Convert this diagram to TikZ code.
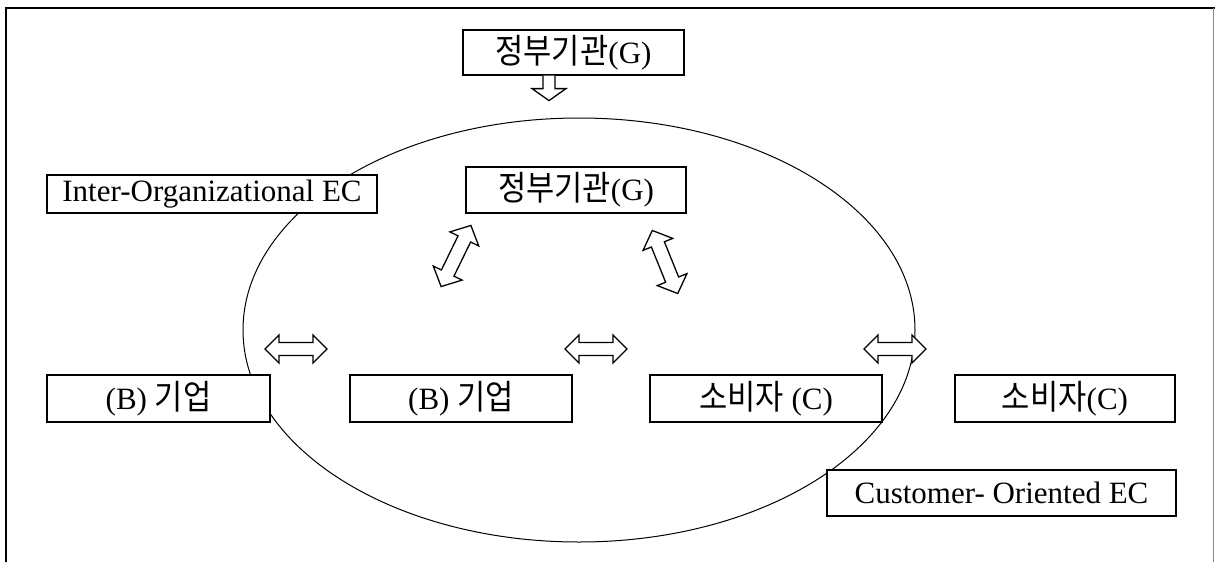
\documentclass[tikz,border=0pt]{standalone}
\usepackage{fontspec}
\setmainfont{Liberation Serif}
\newfontfamily\kr{Noto Sans CJK KR}[Scale=1.1,FakeStretch=0.9]
\usetikzlibrary{shapes.geometric}
\begin{document}
\begin{tikzpicture}[x=1pt,y=-1pt,
  box/.style={draw, line width=1.2pt, fill=white, inner sep=0pt,
    font=\fontsize{31}{36}\selectfont},
  blockarrow/.style={draw, line width=1.3pt, fill=white, line join=miter},
  dblarr/.pic={\path[blockarrow] (-31,0) -- (-17,-14) -- (-17,-6.5) -- (17,-6.5) -- (17,-14) -- (31,0)
      -- (17,14) -- (17,6.5) -- (-17,6.5) -- (-17,14) -- cycle;},
  tiltarr/.pic={\path[blockarrow] (-34,0) -- (-19,-16) -- (-19,-7) -- (19,-7) -- (19,-16) -- (34,0)
      -- (19,16) -- (19,7) -- (-19,7) -- (-19,16) -- cycle;}]
\useasboundingbox (0,0) rectangle (1215,562);
% frame
\draw[line width=1.5pt] (6,562) -- (6,8) -- (1215,8);
\draw[line width=1pt, black!45] (1213,8) -- (1213,562);
% ellipse
\node[ellipse, draw, line width=1pt, inner sep=0pt, minimum width=672, minimum height=424] (ring) at (579,330) {};
% boxes
\node[box, minimum width=221, minimum height=45] (gtop) at (573.5,52.5) {{\kr 정부기관}(G)};
\node[box, minimum width=220, minimum height=46] (ginner) at (576,190) {{\kr 정부기관}(G)};
\node[box, minimum width=330, minimum height=38] (interorg) at (212,194) {Inter-Organizational EC};
\node[box, minimum width=223, minimum height=47] (b1) at (158.5,398.5) {(B) {\kr 기업}};
\node[box, minimum width=222, minimum height=47] (b2) at (461,398.5) {(B) {\kr 기업}};
\node[box, minimum width=232, minimum height=47] (c1) at (766,398.5) {{\kr 소비자} (C)};
\node[box, minimum width=220, minimum height=47] (c2) at (1065,398.5) {{\kr 소비자}(C)};
\node[box, minimum width=349, minimum height=46] (cust) at (1001.5,493) {Customer- Oriented EC};
% down arrow from top box into ellipse
\path[blockarrow] (gtop.south) ++(-30.5,0) -- ++(0,13) -- ++(-11,0) -- ++(17,12) -- ++(17,-12) -- ++(-11,0) -- ++(0,-13);
% double arrows
\pic[rotate=64] at (456,256) {tiltarr};
\pic[rotate=-68] at (665,262) {tiltarr};
\pic at (296,349) {dblarr};
\pic at (596,349) {dblarr};
\pic at (895,349) {dblarr};
\end{tikzpicture}
\end{document}
